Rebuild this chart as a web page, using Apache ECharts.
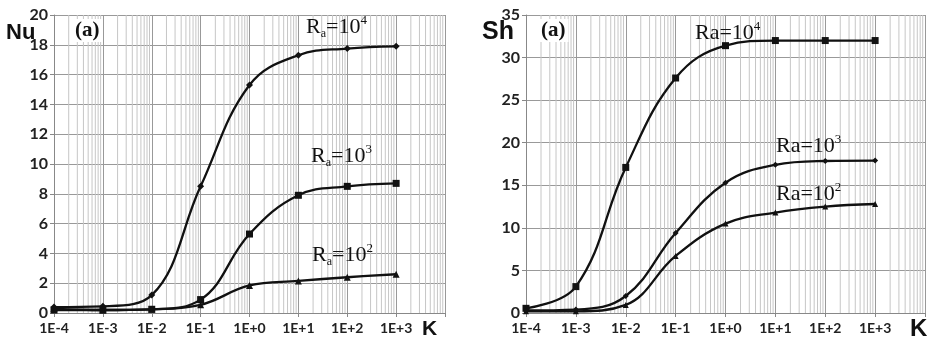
<!DOCTYPE html>
<html>
<head>
<meta charset="utf-8">
<script src="https://cdn.jsdelivr.net/npm/echarts@6/dist/echarts.min.js"></script>
<style>
  html, body { margin: 0; padding: 0; background: #fff; }
  #chart { width: 931px; height: 343px; }
</style>
</head>
<body>
<div id="chart"></div>
<script>
// K values (x), shared by both panels
var kValues = [1e-4, 1e-3, 1e-2, 1e-1, 1, 10, 100, 1000];

// left panel: Nu
var nuRa4 = [0.4, 0.45, 1.2, 8.5, 15.3, 17.3, 17.75, 17.9];
var nuRa3 = [0.2, 0.2, 0.25, 0.9, 5.3, 7.9, 8.5, 8.7];
var nuRa2 = [0.3, 0.2, 0.25, 0.55, 1.85, 2.15, 2.4, 2.6];

// right panel: Sh
var shRa4 = [0.55, 3.1, 17.1, 27.6, 31.4, 32.0, 32.0, 32.0];
var shRa3 = [0.3, 0.4, 2.0, 9.4, 15.3, 17.4, 17.85, 17.9];
var shRa2 = [0.2, 0.2, 0.95, 6.7, 10.5, 11.8, 12.5, 12.8];

var nuTicks = [0, 20, 2];
var shTicks = [0, 35, 5];

// minor log grid values 2..9 x 10^e
var minorK = [];
for (var e = -4; e <= 3; e++) {
  for (var m = 2; m <= 9; m++) minorK.push(m * Math.pow(10, e));
}

var chart = echarts.init(document.getElementById('chart'));

function pairs(ys) {
  return kValues.map(function (k, i) { return [k, ys[i]]; });
}

// vertical minor grid drawn as broken line segments
function minorGrid(gi, t) {
  var d = [];
  minorK.forEach(function (k) {
    d.push([k, t[0]], [k, t[1]], [k, '-']);
  });
  return {
    type: 'line', xAxisIndex: gi, yAxisIndex: gi, data: d,
    symbol: 'none', silent: true, connectNulls: false, z: 0,
    lineStyle: { color: '#c6c6c6', width: 1 }
  };
}

function xAxis(gi) {
  return {
    type: 'log', gridIndex: gi, logBase: 10, min: 1e-4, max: 1e4, interval: 1,
    axisLine: { lineStyle: { color: '#888' } },
    axisTick: { show: true, length: 4, lineStyle: { color: '#888' } },
    splitLine: { show: true, lineStyle: { color: '#999', width: 1 } },
    axisLabel: {
      fontFamily: 'Lato', fontWeight: 'bold', fontSize: 14, color: '#222', margin: 8,
      formatter: function (v) {
        var ex = Math.round(Math.log10(v));
        if (ex > 3) return '';
        return '1E' + (ex >= 0 ? '+' : '') + ex;
      }
    }
  };
}

function yAxis(gi, t) {
  return {
    type: 'value', gridIndex: gi, min: t[0], max: t[1], interval: t[2],
    axisLine: { show: true, lineStyle: { color: '#888' } },
    axisTick: { show: true, length: 4, lineStyle: { color: '#888' } },
    splitLine: { show: true, lineStyle: { color: '#999', width: 1 } },
    axisLabel: { fontFamily: 'Lato', fontWeight: 'bold', fontSize: 16, color: '#222', margin: 6 }
  };
}

function line(gi, ys, sym, size) {
  return {
    type: 'line', xAxisIndex: gi, yAxisIndex: gi, data: pairs(ys),
    smooth: 0.4, symbol: sym, symbolSize: size,
    lineStyle: { color: '#111', width: 2.3 },
    itemStyle: { color: '#111' },
    z: 5
  };
}

function raLabel(x, y, exp, sub) {
  return {
    type: 'text', left: x, top: y, z: 20,
    style: {
      text: sub ? '{r|R}{s|a}{r|=10}{p|' + exp + '}' : '{r|Ra=10}{p|' + exp + '}',
      rich: {
        r: { fontFamily: 'Liberation Serif', fontSize: 22, fill: '#111' },
        s: { fontFamily: 'Liberation Serif', fontSize: 12, fill: '#111', padding: [14, 0, 0, 0] },
        p: { fontFamily: 'Liberation Serif', fontSize: 13, fill: '#111', padding: [0, 0, 13, 0] }
      }
    }
  };
}

function tag(x, y) {
  return {
    type: 'text', left: x, top: y, z: 20,
    style: {
      text: '(a)', fontFamily: 'Liberation Serif', fontWeight: 'bold', fontSize: 21,
      fill: '#111', backgroundColor: '#fff', padding: [1, 3]
    }
  };
}

var option = {
  animation: false,
  backgroundColor: '#fff',
  grid: [
    { left: 54, top: 15, width: 391, height: 298 },
    { left: 526, top: 15, width: 399, height: 298 }
  ],
  xAxis: [xAxis(0), xAxis(1)],
  yAxis: [yAxis(0, nuTicks), yAxis(1, shTicks)],
  series: [
    minorGrid(0, nuTicks),
    minorGrid(1, shTicks),
    line(0, nuRa4, 'diamond', 7),
    line(0, nuRa3, 'rect', 7),
    line(0, nuRa2, 'triangle', 7),
    line(1, shRa4, 'rect', 7),
    line(1, shRa3, 'diamond', 6),
    line(1, shRa2, 'triangle', 6)
  ],
  graphic: [
    { type: 'text', left: 6, top: 22, z: 20,
      style: { text: 'Nu', fontFamily: 'Liberation Sans', fontWeight: 'bold', fontSize: 22, fill: '#111' } },
    { type: 'text', left: 482, top: 20, z: 20,
      style: { text: 'Sh', fontFamily: 'Liberation Sans', fontWeight: 'bold', fontSize: 25, fill: '#111' } },
    { type: 'text', left: 422, top: 319, z: 20,
      style: { text: 'K', fontFamily: 'Liberation Sans', fontWeight: 'bold', fontSize: 21, fill: '#111' } },
    { type: 'text', left: 910, top: 317, z: 20,
      style: { text: 'K', fontFamily: 'Liberation Sans', fontWeight: 'bold', fontSize: 24, fill: '#111' } },
    tag(72, 19),
    tag(538, 19),
    raLabel(306, 14, '4', true),
    raLabel(311, 143, '3', true),
    raLabel(312, 242, '2', true),
    raLabel(695, 20, '4', false),
    raLabel(776, 133, '3', false),
    raLabel(776, 181, '2', false)
  ]
};

chart.setOption(option);
</script>
</body>
</html>
